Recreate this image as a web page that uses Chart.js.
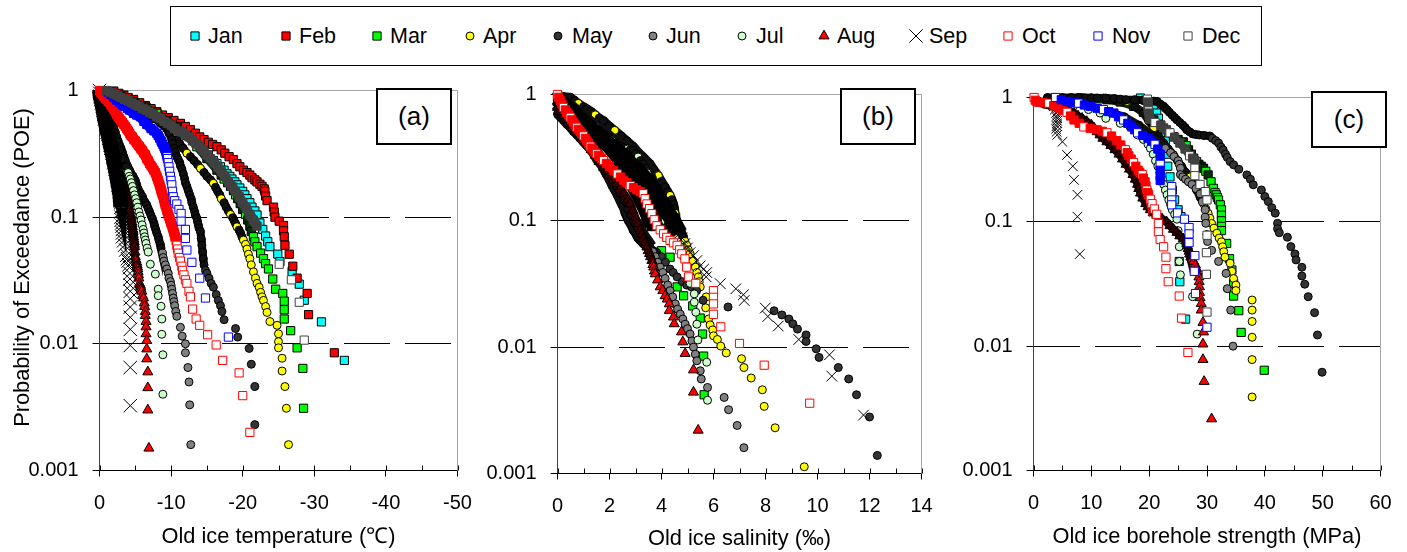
<!DOCTYPE html>
<html>
<head>
<meta charset="utf-8">
<script src="https://cdn.jsdelivr.net/npm/chart.js@4/dist/chart.umd.min.js"></script>
<style>
  html, body { margin: 0; padding: 0; background: #fff; }
  body { position: relative; width: 1407px; height: 552px; overflow: hidden; font-family: "Liberation Sans", Arial, sans-serif; }
  canvas.panel { position: absolute; top: 0; }
  #legendBox { position: absolute; left: 170px; top: 6px; width: 1090px; height: 58px; border: 1px solid #000; }
  .legItem { position: absolute; top: 17px; font-size: 21.5px; line-height: 24px; color: #000; }
  .legMark { position: absolute; top: 0; }
  .tag { position: absolute; width: 72px; height: 53px; border: 2px solid #000; background: #fff; font-size: 26px; line-height: 53px; text-align: center; z-index: 5; }
</style>
</head>
<body>
<div id="legendBox"></div>
<canvas class="panel" id="chartA"></canvas>
<canvas class="panel" id="chartB"></canvas>
<canvas class="panel" id="chartC"></canvas>
<div class="tag" style="left:376px;top:88px">(a)</div>
<div class="tag" style="left:840px;top:88px">(b)</div>
<div class="tag" style="left:1311px;top:91px">(c)</div>
<script>
"use strict";

const months = ['Jan','Feb','Mar','Apr','May','Jun','Jul','Aug','Sep','Oct','Nov','Dec'];

// (a) temperature, [degC, POE]
const tempJan = [[-1.5,.98],[-2.2,.94],[-3,.9],[-3.8,.87],[-4.75,.84],[-5.6,.79],[-6.5,.74],[-7.2,.7],[-8,.66],[-9.2,.6],[-10.3,.55],[-11,.52],[-11.7,.49],[-12.4,.46],[-13.1,.43],[-13.8,.39],[-14.5,.35],[-15.2,.31],[-15.9,.28],[-16.4,.265],[-16.9,.25],[-17.4,.235],[-17.8,.22],[-18.2,.21],[-18.5,.2],[-18.9,.19],[-19.2,.18],[-19.6,.17],[-20,.16],[-20.3,.15],[-20.6,.14],[-21,.13],[-21.3,.12],[-21.7,.112],[-22,.104],[-22.4,.09],[-22.8,.08],[-23.2,.071],[-23.5,.064],[-23.8,.0585],[-24.9,.051],[-25.2,.0445],[-26.9,.0373],[-27.9,.0296],[-28.6,.0221],[-31,.0149],[-34.2,.0074]];
const tempFeb = [[-2,.99],[-2.7,.95],[-3.4,.92],[-4,.88],[-4.75,.85],[-5.6,.8],[-6.4,.76],[-7.2,.72],[-8,.68],[-8.8,.64],[-9.6,.61],[-10.4,.58],[-11.3,.55],[-12,.52],[-12.7,.49],[-13.4,.46],[-14,.43],[-14.6,.41],[-15.2,.39],[-15.8,.375],[-16.4,.36],[-17,.34],[-17.5,.32],[-18.1,.3],[-18.7,.285],[-19.2,.265],[-19.6,.25],[-20.1,.235],[-20.6,.225],[-21,.215],[-21.3,.205],[-21.7,.197],[-22,.19],[-22.4,.182],[-22.7,.175],[-23,.167],[-23.1,.16],[-23.2,.147],[-23.4,.135],[-24.3,.12],[-24.4,.11],[-24.5,.1],[-25.1,.093],[-25.7,.086],[-25.7,.078],[-25.8,.07],[-25.9,.06],[-26.5,.051],[-27,.041],[-27.6,.033],[-29,.025],[-29.2,.017],[-32.8,.0085]];
const tempMar = [[-1.5,.98],[-3,.9],[-4.75,.82],[-6.4,.74],[-8,.66],[-9.4,.58],[-10.8,.52],[-12.2,.44],[-13.6,.36],[-15,.29],[-16.4,.235],[-17,.215],[-17.4,.2],[-17.9,.187],[-18.3,.175],[-18.7,.162],[-19,.15],[-19.3,.14],[-19.65,.128],[-20,.115],[-20.4,.105],[-20.7,.095],[-21,.085],[-21.2,.077],[-21.5,.07],[-21.7,.064],[-22,.0585],[-22.5,.052],[-22.9,.047],[-23.2,.043],[-23.6,.039],[-24.2,.0325],[-24.6,.027],[-25.6,.025],[-25.8,.0217],[-25.8,.0186],[-25.8,.0157],[-26.7,.0127],[-27.6,.0093],[-28.4,.0064],[-28.5,.0031]];
const tempApr = [[-1,.98],[-2,.93],[-3,.88],[-3.9,.83],[-4.75,.79],[-5.6,.74],[-6.5,.7],[-7.5,.64],[-8.5,.59],[-9,.54],[-9.4,.5],[-9.9,.47],[-10.3,.44],[-10.8,.41],[-11.2,.38],[-11.7,.35],[-12.2,.32],[-12.7,.3],[-13.2,.28],[-13.7,.26],[-14.1,.243],[-14.6,.225],[-15,.21],[-15.5,.197],[-15.9,.185],[-16.2,.172],[-16.5,.16],[-16.8,.15],[-17,.14],[-17.4,.13],[-17.7,.12],[-18,.112],[-18.3,.105],[-18.6,.099],[-18.8,.094],[-19,.089],[-19.2,.084],[-19.5,.079],[-19.7,.075],[-19.9,.07],[-20.1,.066],[-20.4,.061],[-20.6,.056],[-20.8,.051],[-21,.047],[-21.2,.042],[-21.5,.037],[-21.8,.033],[-22,.03],[-22.3,.028],[-22.5,.0255],[-22.7,.0235],[-22.9,.022],[-23.2,.0197],[-23.4,.0177],[-23.8,.015],[-24.8,.014],[-25,.012],[-25,.0104],[-25,.0093],[-25.5,.0077],[-25.5,.0061],[-25.9,.0046],[-26.1,.0031],[-26.4,.0016]];
const tempMay = [[-.55,.92],[-1.1,.88],[-1.7,.84],[-2.3,.8],[-2.9,.77],[-3.6,.74],[-4.2,.71],[-5,.68],[-5.7,.66],[-6.4,.64],[-7,.62],[-7.5,.6],[-8,.59],[-8.4,.56],[-8.8,.54],[-9.1,.52],[-9.4,.5],[-9.7,.46],[-10.1,.41],[-10.2,.38],[-10.4,.35],[-10.6,.325],[-10.8,.3],[-11,.285],[-11.2,.27],[-11.3,.255],[-11.5,.24],[-11.7,.22],[-11.9,.2],[-12,.187],[-12.2,.175],[-12.4,.162],[-12.6,.15],[-12.8,.14],[-12.9,.13],[-13.1,.12],[-13.3,.11],[-13.4,.104],[-13.6,.098],[-13.7,.092],[-13.8,.087],[-13.9,.082],[-14.1,.077],[-14.2,.068],[-14.3,.06],[-14.4,.053],[-14.5,.047],[-14.6,.042],[-14.8,.038],[-15,.036],[-15.3,.033],[-15.6,.03],[-15.9,.028],[-16.3,.0245],[-16.6,.022],[-16.9,.02],[-17.1,.018],[-17.4,.0155],[-19,.0132],[-19.3,.0113],[-20.9,.0092],[-21.2,.0069],[-21.7,.0046],[-21.7,.0023]];
const tempJun = [[-.2,.95],[-.4,.9],[-.6,.85],[-.8,.8],[-1,.75],[-1.2,.7],[-1.4,.65],[-1.6,.6],[-1.8,.55],[-2,.51],[-2.2,.47],[-2.4,.43],[-2.6,.4],[-2.8,.37],[-3,.35],[-3.2,.325],[-3.4,.3],[-3.6,.28],[-3.8,.26],[-4,.247],[-4.2,.235],[-4.4,.222],[-4.7,.21],[-5,.195],[-5.2,.18],[-5.4,.167],[-5.7,.155],[-6,.145],[-6.2,.135],[-6.4,.13],[-6.6,.125],[-6.8,.117],[-7,.11],[-7.2,.103],[-7.4,.097],[-7.6,.09],[-7.7,.085],[-7.85,.08],[-8,.075],[-8.2,.07],[-8.3,.066],[-8.5,.061],[-8.6,.057],[-8.8,.052],[-8.9,.048],[-9,.045],[-9.2,.042],[-9.4,.039],[-9.6,.036],[-9.7,.033],[-9.9,.031],[-10,.029],[-10.1,.027],[-10.2,.025],[-10.3,.023],[-10.4,.0215],[-10.5,.02],[-10.65,.018],[-10.8,.0165],[-11.3,.0135],[-11.55,.0115],[-12,.01],[-12,.0085],[-12.35,.0065],[-12.5,.005],[-12.6,.0033],[-12.75,.0016]];
const tempJul = [[-.2,.95],[-.5,.85],[-.9,.75],[-1.2,.65],[-1.6,.55],[-2,.47],[-2.4,.4],[-2.8,.34],[-3.2,.29],[-3.7,.25],[-4,.225],[-4.15,.21],[-4.3,.2],[-4.45,.187],[-4.6,.175],[-4.75,.162],[-4.9,.15],[-5.05,.14],[-5.2,.13],[-5.35,.12],[-5.5,.11],[-5.65,.102],[-5.8,.095],[-5.95,.087],[-6.1,.08],[-6.2,.075],[-6.3,.07],[-6.4,.066],[-6.5,.062],[-6.65,.057],[-6.8,.053],[-7.1,.0425],[-7.8,.0355],[-8.2,.027],[-8.2,.024],[-8.6,.0198],[-8.7,.0157],[-8.7,.0119],[-8.85,.0082],[-8.85,.004]];
const tempAug = [[-.1,.9],[-.3,.8],[-.55,.7],[-.7,.65],[-.8,.62],[-.95,.58],[-1.1,.55],[-1.25,.52],[-1.4,.49],[-1.55,.46],[-1.7,.43],[-1.85,.4],[-2,.38],[-2.1,.36],[-2.2,.34],[-2.25,.32],[-2.3,.3],[-2.35,.285],[-2.4,.27],[-2.55,.25],[-2.7,.235],[-2.85,.22],[-3,.21],[-3.15,.197],[-3.3,.185],[-3.45,.175],[-3.6,.164],[-3.7,.155],[-3.8,.145],[-3.9,.137],[-4.05,.128],[-4.1,.12],[-4.2,.113],[-4.3,.106],[-4.4,.1],[-4.45,.096],[-4.5,.092],[-4.55,.088],[-4.6,.084],[-4.65,.08],[-4.7,.077],[-4.72,.073],[-4.75,.07],[-4.8,.067],[-4.85,.064],[-4.87,.061],[-4.9,.0585],[-4.95,.053],[-5,.0487],[-5.1,.046],[-5.2,.044],[-5.25,.042],[-5.3,.0405],[-5.35,.039],[-5.4,.037],[-5.45,.035],[-5.5,.033],[-5.6,.03],[-5.7,.029],[-5.75,.028],[-5.8,.027],[-5.9,.026],[-6,.024],[-6.15,.023],[-6.25,.021],[-6.3,.0197],[-6.4,.018],[-6.4,.0167],[-6.5,.015],[-6.5,.0136],[-6.5,.012],[-6.6,.0106],[-6.6,.0091],[-6.6,.0076],[-6.75,.006],[-6.75,.0045],[-6.75,.003],[-6.9,.0015]];
const tempSep = [[0,1],[-.05,.95],[-.1,.9],[-.2,.85],[-.3,.8],[-.4,.75],[-.5,.7],[-.6,.65],[-.7,.6],[-.85,.55],[-1,.5],[-1.1,.47],[-1.2,.45],[-1.3,.42],[-1.4,.4],[-1.5,.37],[-1.6,.35],[-1.75,.32],[-1.9,.3],[-2,.27],[-2.1,.255],[-2.2,.24],[-2.3,.225],[-2.4,.21],[-2.5,.195],[-2.6,.18],[-2.7,.17],[-2.75,.16],[-2.85,.15],[-2.9,.14],[-2.95,.13],[-3,.12],[-3,.11],[-3,.1],[-3.05,.095],[-3.1,.09],[-3.15,.085],[-3.2,.08],[-3.2,.075],[-3.2,.07],[-3.35,.065],[-3.5,.06],[-3.65,.055],[-3.8,.05],[-3.9,.047],[-4,.045],[-4.1,.042],[-4.2,.04],[-4.25,.036],[-4.25,.0325],[-4.3,.029],[-4.3,.026],[-4.3,.0227],[-4.3,.0195],[-4.3,.0162],[-4.3,.013],[-4.3,.0097],[-4.3,.0065],[-4.3,.00325]];
const tempOct = [[0,1],[-.2,.96],[-.4,.93],[-.6,.9],[-.8,.87],[-1,.85],[-1.2,.82],[-1.4,.8],[-1.6,.77],[-1.8,.74],[-2,.71],[-2.2,.68],[-2.4,.65],[-2.6,.62],[-2.8,.6],[-3,.58],[-3.2,.56],[-3.4,.54],[-3.6,.52],[-3.8,.5],[-4,.48],[-4.2,.46],[-4.4,.44],[-4.6,.43],[-4.8,.41],[-5,.4],[-5.2,.385],[-5.4,.37],[-5.6,.36],[-5.8,.345],[-6,.335],[-6.2,.32],[-6.4,.31],[-6.6,.29],[-6.8,.28],[-7,.265],[-7.2,.255],[-7.4,.245],[-7.6,.235],[-7.8,.225],[-8,.21],[-8.2,.195],[-8.4,.18],[-8.6,.165],[-8.8,.15],[-9,.14],[-9.2,.125],[-9.4,.115],[-9.6,.105],[-9.8,.097],[-10,.09],[-10.2,.083],[-10.4,.076],[-10.6,.07],[-10.7,.065],[-10.8,.06],[-10.9,.056],[-11,.052],[-11.2,.048],[-11.3,.045],[-11.5,.041],[-11.6,.038],[-11.8,.035],[-12,.032],[-12.2,.03],[-12.5,.026],[-12.7,.0235],[-13,.0188],[-13.5,.0157],[-14,.014],[-15.1,.0118],[-16.3,.0098],[-17.2,.0074],[-19.5,.0059],[-20,.0039],[-21,.002]];
const tempNov = [[-1.2,.97],[-1.6,.93],[-2,.88],[-2.4,.84],[-2.8,.8],[-3.2,.77],[-3.5,.75],[-3.9,.72],[-4.2,.7],[-4.75,.66],[-5.2,.64],[-5.7,.62],[-6.2,.57],[-6.6,.54],[-7.2,.5],[-7.6,.48],[-8,.46],[-8.2,.44],[-8.4,.42],[-8.6,.4],[-8.7,.39],[-8.85,.375],[-9,.36],[-9.1,.35],[-9.2,.34],[-9.3,.325],[-9.4,.31],[-9.45,.3],[-9.5,.29],[-9.6,.27],[-9.7,.25],[-9.8,.23],[-9.9,.21],[-10,.195],[-10.1,.18],[-10.2,.16],[-10.3,.145],[-10.5,.135],[-10.8,.127],[-11.1,.115],[-11.4,.107],[-11.4,.093],[-12,.08],[-12,.068],[-12.2,.055],[-12.9,.044],[-14,.033],[-14.8,.023],[-18,.0113]];
const tempDec = [[-1,1],[-1.5,.97],[-2,.94],[-2.5,.91],[-3,.88],[-3.5,.85],[-4,.83],[-4.5,.8],[-5,.77],[-5.5,.75],[-6,.72],[-6.5,.7],[-7,.67],[-7.5,.65],[-8,.62],[-8.5,.6],[-9,.57],[-9.5,.55],[-10,.53],[-10.5,.5],[-11,.48],[-11.5,.47],[-12,.45],[-12.5,.43],[-13,.4],[-13.5,.38],[-14,.36],[-14.5,.335],[-15,.31],[-15.5,.29],[-16,.27],[-16.5,.25],[-17,.23],[-17.5,.21],[-18,.19],[-18.5,.175],[-19,.16],[-19.5,.145],[-20,.13],[-20.5,.117],[-21,.105],[-21.5,.095],[-22,.085],[-25.1,.0425],[-26.8,.032],[-27.9,.0213],[-28.6,.0107]];

// (b) salinity, [ppt, POE]
const salMar = [[0,.92],[.25,.83],[.5,.75],[.8,.66],[1.1,.58],[1.4,.51],[1.7,.45],[2,.39],[2.3,.33],[2.55,.27],[2.8,.22],[3,.18],[3.2,.15],[3.35,.13],[3.5,.11],[3.6,.09],[4,.058],[4.33,.0515],[4.6,.03],[4.85,.0255],[5.2,.0212],[5.49,.017],[5.58,.0127],[5.62,.0085],[5.64,.0042]];
const salApr = [[0,.98],[.25,.96],[.49,.95],[.65,.9],[.8,.85],[1,.8],[1.13,.77],[1.3,.73],[1.45,.69],[1.6,.65],[1.77,.62],[2,.56],[2.2,.52],[2.45,.47],[2.67,.43],[2.9,.39],[3.1,.35],[3.3,.32],[3.56,.283],[3.7,.255],[3.88,.228],[4,.205],[4.14,.185],[4.24,.17],[4.33,.159],[4.4,.147],[4.46,.136],[4.5,.125],[4.52,.115],[4.55,.107],[4.59,.1],[4.65,.093],[4.72,.087],[4.78,.08],[4.85,.074],[4.9,.069],[4.97,.064],[5.03,.059],[5.1,.0548],[5.2,.048],[5.3,.043],[5.36,.039],[5.42,.036],[5.45,.033],[5.49,.03],[5.72,.025],[5.7,.0205],[5.81,.0167],[5.87,.015],[5.97,.0137],[6,.0123],[6.15,.0115],[6.28,.0102],[6.49,.009],[7.08,.0081],[7.17,.0069],[7.45,.0057],[7.88,.0046],[7.95,.0034],[8.37,.0023],[9.49,.00113]];
const salMay = [[0,.7],[.12,.66],[.25,.62],[.37,.58],[.49,.55],[.62,.51],[.75,.48],[.87,.45],[1,.42],[1.12,.395],[1.25,.37],[1.37,.345],[1.5,.32],[1.62,.29],[1.75,.26],[1.87,.235],[2,.21],[2.1,.19],[2.2,.175],[2.3,.16],[2.4,.145],[2.47,.135],[2.55,.125],[2.6,.115],[2.67,.107],[2.73,.1],[2.8,.095],[2.86,.09],[2.92,.084],[3,.08],[3.05,.076],[3.1,.073],[3.18,.07],[3.3,.066],[3.44,.062],[3.6,.059],[3.82,.056],[4,.052],[4.15,.047],[4.33,.0415],[4.45,.039],[4.6,.036],[4.8,.033],[4.97,.031],[5.15,.03],[5.35,.028],[5.6,.0235],[6.56,.0208],[8.33,.0194],[8.63,.018],[8.9,.0167],[9.05,.0153],[9.23,.0139],[9.56,.0125],[9.56,.0111],[9.95,.0097],[10.06,.0083],[10.8,.0069],[11.2,.0056],[11.5,.0042],[12,.0028],[12.3,.00139]];
const salJun = [[0,.84],[.12,.78],[.25,.72],[.37,.67],[.49,.62],[.65,.57],[.8,.52],[.95,.47],[1.13,.43],[1.3,.39],[1.45,.35],[1.6,.31],[1.77,.283],[1.95,.25],[2.1,.22],[2.25,.19],[2.41,.164],[2.55,.145],[2.7,.125],[2.8,.112],[2.92,.1],[3,.094],[3.1,.087],[3.2,.08],[3.3,.074],[3.43,.068],[3.56,.062],[3.66,.057],[3.76,.052],[3.85,.047],[3.95,.043],[4.05,.039],[4.14,.035],[4.24,.031],[4.33,.028],[4.43,.025],[4.53,.022],[4.62,.02],[4.72,.0183],[4.82,.0167],[4.91,.0152],[5,.014],[5.1,.0127],[5.17,.0112],[5.23,.01],[5.3,.0088],[5.36,.0078],[5.49,.0065],[5.53,.0056],[5.77,.0048],[6.41,.004],[6.58,.0032],[6.91,.0024],[7.17,.0016]];
const salJul = [[0,.9],[.25,.85],[.49,.8],[.65,.75],[.8,.7],[1,.66],[1.13,.62],[1.3,.58],[1.45,.55],[1.6,.52],[1.77,.49],[1.95,.46],[2.1,.43],[2.25,.41],[2.41,.39],[2.55,.38],[2.7,.37],[2.8,.365],[2.92,.36],[3,.34],[3.1,.32],[3.2,.3],[3.3,.283],[3.4,.26],[3.45,.24],[3.55,.215],[3.63,.196],[3.7,.17],[3.8,.15],[3.88,.13],[3.95,.117],[4.05,.108],[4.15,.1],[4.25,.092],[4.33,.084],[4.5,.074],[4.72,.062],[4.85,.052],[4.97,.043],[5.1,.032],[5.26,.0264],[5.26,.0227],[5.32,.0189],[5.36,.0152],[5.4,.0114],[5.74,.0076],[5.77,.0038]];
const salAug = [[0,.79],[.12,.73],[.25,.68],[.37,.63],[.49,.586],[.65,.535],[.8,.49],[.95,.45],[1.13,.407],[1.3,.365],[1.45,.33],[1.6,.295],[1.77,.265],[1.9,.245],[2,.23],[2.15,.21],[2.28,.196],[2.4,.18],[2.55,.165],[2.7,.148],[2.8,.136],[2.9,.12],[2.99,.107],[3.08,.095],[3.18,.084],[3.24,.078],[3.3,.072],[3.37,.067],[3.44,.062],[3.49,.058],[3.54,.055],[3.58,.052],[3.63,.0485],[3.67,.045],[3.7,.043],[3.73,.04],[3.76,.038],[3.85,.034],[3.95,.03],[4.05,.028],[4.14,.0255],[4.22,.024],[4.3,.022],[4.3,.0195],[4.46,.0173],[4.49,.0153],[4.77,.0132],[4.82,.011],[4.91,.0089],[5.23,.0066],[5.23,.0044],[5.41,.0022]];
const salSep = [[0,.93],[.1,.89],[.2,.85],[.3,.81],[.4,.78],[.5,.75],[.6,.72],[.7,.69],[.8,.66],[.9,.63],[1,.6],[1.12,.57],[1.25,.54],[1.37,.51],[1.5,.49],[1.62,.465],[1.75,.44],[1.87,.42],[2,.4],[2.12,.38],[2.25,.36],[2.37,.345],[2.5,.33],[2.62,.31],[2.75,.29],[2.87,.275],[3,.26],[3.12,.245],[3.25,.23],[3.37,.215],[3.5,.2],[3.6,.187],[3.7,.175],[3.8,.162],[3.9,.15],[4.05,.135],[4.2,.12],[4.35,.107],[4.5,.095],[4.6,.087],[4.7,.08],[4.8,.073],[4.9,.066],[5,.061],[5.1,.056],[5.23,.053],[5.36,.0485],[5.49,.044],[5.62,.0415],[5.74,.039],[5.72,.036],[6.26,.0318],[6.86,.029],[7.15,.026],[7.18,.0234],[7.99,.0204],[8.09,.0175],[8.49,.0147],[9.28,.0115],[10.46,.0087],[10.55,.0059],[11.77,.0029]];
const salOct = [[0,1],[.05,.95],[.1,.9],[.17,.84],[.23,.79],[.3,.755],[.36,.72],[.43,.69],[.49,.66],[.55,.63],[.62,.6],[.68,.575],[.74,.55],[.8,.53],[.87,.51],[.93,.49],[1,.47],[1.07,.45],[1.13,.43],[1.2,.41],[1.26,.39],[1.32,.377],[1.38,.365],[1.44,.35],[1.5,.34],[1.57,.33],[1.63,.32],[1.7,.31],[1.77,.3],[1.88,.285],[2,.27],[2.15,.25],[2.3,.235],[2.42,.222],[2.54,.21],[2.67,.2],[2.8,.19],[2.92,.183],[3.05,.176],[3.18,.17],[3.3,.164],[3.37,.15],[3.44,.136],[3.54,.125],[3.63,.114],[3.72,.102],[3.82,.0915],[3.95,.085],[4.08,.079],[4.2,.074],[4.33,.07],[4.46,.067],[4.6,.064],[4.7,.059],[4.78,.0548],[4.9,.05],[4.97,.043],[5.04,.036],[5.32,.032],[6,.028],[6,.0248],[6,.022],[6,.0182],[6.28,.0145],[7,.0107],[7.95,.0072],[9.7,.0036]];

// (c) borehole strength, [MPa, POE]
const strJan = [[18.5,.99],[19.4,.95],[20.2,.9],[20.7,.82],[21.3,.75],[21.6,.68],[22,.6],[22.4,.52],[22.8,.45],[23.2,.35],[23.2,.28],[23.6,.23],[24,.18],[24.4,.15],[25,.125],[25.5,.11],[25.2,.048],[25.3,.033],[26.3,.0165]];
const strMar = [[8.1,.99],[12.7,.96],[15,.92],[17.3,.85],[19,.76],[20.8,.66],[21.6,.61],[22.5,.56],[23.4,.52],[24.2,.485],[25,.46],[25.9,.44],[26.4,.41],[26.8,.38],[27.3,.35],[27.7,.325],[28.2,.305],[28.6,.29],[29,.28],[29.4,.27],[29.8,.255],[30.2,.2385],[30.7,.21],[31.1,.186],[31.4,.172],[31.6,.165],[31.8,.157],[32,.15],[32.3,.137],[32.5,.125],[32.5,.113],[32.5,.102],[32.5,.092],[32.5,.085],[33.4,.067],[33.9,.0505],[34.3,.041],[34.6,.032],[34.6,.0253],[35.5,.0193],[35.9,.0129],[39.9,.0064]];
const strApr = [[8.1,1],[10,.995],[12.1,.99],[14,.96],[16.2,.93],[17.6,.84],[19,.75],[19.9,.65],[20.8,.57],[21.6,.49],[22.5,.43],[23.3,.385],[24.2,.346],[24.9,.31],[25.6,.28],[26.3,.25],[27.1,.23],[27.6,.205],[28.2,.18],[28.8,.158],[29.4,.14],[29.8,.127],[30.2,.117],[30.5,.107],[30.8,.097],[31.2,.089],[31.7,.081],[32.1,.074],[32.5,.069],[32.7,.063],[32.9,.0575],[33.1,.052],[34,.0465],[34.3,.04],[34.6,.035],[35,.031],[35,.028],[37.8,.0235],[37.8,.0195],[37.8,.0158],[37.8,.0118],[37.8,.0078],[37.8,.0039]];
const strMay = [[2.4,1],[3.5,1],[5,1],[6.5,1],[7.8,1],[9,.99],[10,.99],[11,.99],[12.5,.99],[14,.98],[15,.97],[16,.96],[17.5,.96],[19,.95],[20,.94],[20.8,.935],[21.4,.928],[22,.88],[22.5,.85],[22.8,.82],[23.1,.796],[23.5,.76],[24,.72],[24.4,.69],[24.8,.661],[25.3,.63],[25.8,.6],[26.2,.575],[26.5,.55],[27,.53],[27.5,.51],[28,.505],[28.6,.5],[29.5,.495],[30.5,.49],[30.9,.47],[31.5,.45],[32,.43],[32.4,.4],[32.8,.379],[33.2,.35],[33.5,.33],[34,.305],[34.6,.2875],[35.5,.265],[36.9,.2385],[37.5,.22],[38,.1985],[39.4,.1805],[40,.16],[40.6,.1455],[41.2,.13],[41.8,.1175],[42.2,.0973],[42.2,.088],[42.5,.0818],[43.9,.0752],[44.5,.0632],[45.2,.0552],[45.4,.0494],[46.4,.0431],[46.4,.0367],[46.9,.0315],[47.5,.025],[48.6,.0186],[49.1,.0123],[49.9,.00617]];
const strJun = [[2.4,.98],[5,.95],[7.8,.9],[10,.85],[12.4,.78],[15.7,.7],[18.2,.6],[20.8,.49],[21.4,.46],[22,.43],[22.8,.39],[23.7,.36],[24.3,.335],[25,.31],[25.2,.29],[25.4,.27],[25.4,.24],[25.8,.23],[26.3,.22],[26.8,.21],[27.4,.2],[28.1,.185],[28.8,.168],[29.2,.145],[29.7,.125],[29.7,.109],[29.8,.0973],[30,.079],[30.1,.0695],[30.8,.059],[32,.048],[33.3,.0385],[33.5,.029],[34.1,.0195],[34.5,.01]];
const strJul = [[6.9,.85],[9.5,.8],[11.5,.75],[12.5,.68],[15,.62],[16.7,.58],[18,.5],[19,.46],[19.8,.42],[20.2,.39],[20.7,.35],[21.1,.31],[21.5,.28],[21.9,.25],[22.3,.22],[22.5,.2],[22.8,.18],[23.1,.165],[23.4,.15],[23.7,.137],[24,.125],[24.4,.115],[24.8,.105],[25,.085],[25.2,.063],[25.2,.048],[25.4,.0375],[27.5,.025],[28.3,.0125]];
const strAug = [[1.2,.9],[2.4,.87],[3.5,.84],[4.6,.82],[5.8,.8],[6.4,.775],[7,.748],[7.7,.71],[8.4,.68],[9.2,.64],[10,.6],[10.5,.565],[11,.53],[11.5,.5],[12,.47],[12.7,.44],[13.4,.41],[14.1,.38],[14.8,.35],[15.4,.32],[16,.29],[16.6,.265],[17.2,.24],[17.6,.22],[18,.2],[18.2,.185],[18.5,.17],[18.9,.155],[19.4,.14],[19.8,.132],[20.2,.125],[20.7,.118],[21.3,.113],[22.2,.106],[23,.1],[23.6,.093],[24.2,.087],[24.8,.082],[25.3,.077],[25.9,.073],[26.4,.07],[26.5,.067],[26.6,.064],[26.75,.061],[26.9,.058],[27,.055],[27.2,.052],[27.45,.05],[27.7,.048],[28,.045],[28.2,.042],[28.4,.039],[28.6,.036],[28.65,.033],[28.7,.03],[28.7,.027],[28.8,.0245],[29,.022],[29,.0195],[29.3,.0155],[29.4,.013],[29.3,.0104],[29.3,.0078],[29.5,.0052],[30.8,.0026]];
const strSep = [[3,.95],[3.2,.9],[3.5,.85],[3.7,.8],[3.9,.75],[4,.71],[4.1,.68],[4.1,.65],[4.1,.62],[4,.59],[3.9,.56],[4,.53],[4.1,.5],[5,.44],[5.8,.345],[6.8,.28],[7,.2175],[7.6,.165],[7.6,.11],[8,.055]];
const strOct = [[.1,1],[.3,.95],[.6,.92],[1.6,.91],[2.6,.9],[3.5,.86],[4.4,.82],[5.1,.79],[5.8,.76],[6.4,.71],[7,.66],[7.9,.62],[8.7,.58],[9.8,.565],[11,.55],[11.9,.535],[12.7,.52],[13.5,.49],[14.4,.45],[15.1,.415],[15.9,.38],[16.2,.36],[16.5,.34],[16.9,.32],[17.3,.3],[17.7,.28],[18.1,.26],[18.4,.25],[18.8,.24],[19,.225],[19.3,.21],[19.45,.195],[19.6,.18],[19.75,.172],[19.9,.165],[20.2,.152],[20.5,.14],[20.9,.127],[21.3,.115],[21.6,.097],[21.6,.083],[21.9,.072],[22.5,.063],[22.9,.052],[22.9,.042],[23.3,.033],[25.2,.0253],[25.6,.0168],[26.7,.0089]];
const strNov = [[3.8,1],[4.8,.96],[5.8,.93],[6.8,.91],[7.8,.9],[8.8,.87],[9.8,.85],[11,.82],[12.1,.8],[13,.77],[13.9,.75],[14.7,.7],[15.6,.66],[16.3,.62],[17,.58],[17.5,.55],[18,.52],[18.9,.495],[19.8,.47],[20.4,.445],[21,.42],[21.5,.385],[21.9,.35],[21.9,.32],[21.9,.29],[21.9,.26],[21.9,.235],[21.9,.215],[23.9,.192],[23.9,.17],[23.9,.15],[23.9,.137],[24.9,.118],[26.1,.105],[26.9,.09],[26.9,.08],[26.9,.068],[27.9,.0535],[27.8,.04],[28,.0265],[30,.0142]];
const strDec = [[19.7,.97],[19.8,.92],[19.8,.87],[19.8,.82],[19.9,.78],[20,.75],[20,.71],[20.1,.67],[21,.63],[22,.6],[22.5,.57],[23,.55],[23.6,.52],[24.4,.48],[25.3,.43],[26.2,.385],[27,.34],[27.5,.325],[27.9,.31],[27.9,.27],[27.9,.235],[28.8,.2],[29.7,.175],[30,.15],[30,.078],[29.9,.0565],[29.9,.0378],[30,.0188]];

const colorBlack = '#000';
// marker look per month
const markerStyles = {
  Jan: { pointStyle: 'rect', pointBackgroundColor: '#00ffff', pointBorderColor: colorBlack, size: 5.8 },
  Feb: { pointStyle: 'rect', pointBackgroundColor: '#ff0000', pointBorderColor: colorBlack, size: 5.8 },
  Mar: { pointStyle: 'rect', pointBackgroundColor: '#00ff00', pointBorderColor: colorBlack, size: 5.8 },
  Apr: { pointStyle: 'circle', pointBackgroundColor: '#ffff00', pointBorderColor: colorBlack, size: 4 },
  May: { pointStyle: 'circle', pointBackgroundColor: '#333333', pointBorderColor: colorBlack, size: 4 },
  Jun: { pointStyle: 'circle', pointBackgroundColor: '#808080', pointBorderColor: colorBlack, size: 4 },
  Jul: { pointStyle: 'circle', pointBackgroundColor: '#ccffcc', pointBorderColor: colorBlack, size: 4 },
  Aug: { pointStyle: 'triangle', pointBackgroundColor: '#ff0000', pointBorderColor: colorBlack, size: 5.8 },
  Sep: { pointStyle: 'crossRot', pointBackgroundColor: colorBlack, pointBorderColor: colorBlack, size: 9.5 },
  Oct: { pointStyle: 'rect', pointBackgroundColor: '#fff', pointBorderColor: '#ff0000', size: 5.8 },
  Nov: { pointStyle: 'rect', pointBackgroundColor: '#fff', pointBorderColor: '#0000ff', size: 5.8 },
  Dec: { pointStyle: 'rect', pointBackgroundColor: '#fff', pointBorderColor: '#404040', size: 5.8 }
};

// where markers pile up solid: first n points of a month merge into one dark band
const bandsA = {
  Mar: { n: 25, color: '#0a300a', width: 8, specks: true },
  Apr: { n: 41, color: '#111', width: 8, specks: true },
  May: { n: 48, color: '#111', width: 8 },
  Jun: { n: 43, color: '#111', width: 8 },
  Jul: { n: 10, color: '#111', width: 8 },
  Aug: { n: 49, color: '#500000', width: 8 },
  Sep: { n: 32, color: '#000', width: 15 },
  Oct: { n: 55, color: '#ff0000', width: 11 },
  Nov: { n: 27, color: '#0000ff', width: 10 },
  Dec: { n: 43, color: '#404040', width: 10 }
};
const bandsB = {
  Mar: { n: 16, color: '#000', width: 16 },
  Apr: { n: 35, color: '#111', width: 9, specks: true },
  May: { n: 37, color: '#111', width: 9 },
  Jun: { n: 27, color: '#111', width: 14 },
  Jul: { n: 35, color: '#111', width: 14, specks: true },
  Aug: { n: 33, color: '#400000', width: 8 },
  Sep: { n: 41, color: '#000', width: 16 },
  Oct: { n: 41, color: '#ff0000', width: 9, specks: true }
};
const bandsC = {
  Mar: { n: 22, color: '#0a300a', width: 8, specks: true },
  Apr: { n: 21, color: '#111', width: 8, specks: true },
  May: { n: 35, color: '#111', width: 8 },
  Jun: { n: 10, color: '#111', width: 8 },
  Aug: { n: 47, color: '#300000', width: 8 },
  Oct: { n: 35, color: '#ff0000', width: 7, specks: true },
  Nov: { n: 28, color: '#0000ff', width: 8, specks: true },
  Dec: { n: 19, color: '#404040', width: 8, specks: true }
};

const decadeTicks = [1, 0.1, 0.01, 0.001];
const fontFamily = '"Liberation Sans", Arial, sans-serif';
const tickFontSize = 20;
const titleFontSize = 21.8;

function monthDatasets(seriesMap, crossSize, bands) {
  // lower order is drawn on top, so later months must get lower numbers
  return months.filter(m => seriesMap[m]).map((m, i) => {
    const st = markerStyles[m];
    const band = bands[m];
    const ds = {
      label: m,
      data: seriesMap[m].map(p => ({ x: p[0], y: p[1] })),
      order: 100 - i,
      showLine: false,
      clip: false,
      pointStyle: st.pointStyle,
      pointBackgroundColor: st.pointBackgroundColor,
      pointBorderColor: st.pointBorderColor,
      pointBorderWidth: 1,
      pointRadius: m === 'Sep' ? crossSize : st.size
    };
    if (band) {
      ds.showLine = true;
      ds.tension = 0;
      ds.borderWidth = band.width;
      ds.borderColor = 'rgba(0,0,0,0)';
      ds.segment = { borderColor: c => (c.p1DataIndex < band.n ? band.color : 'rgba(0,0,0,0)') };
      ds.pointBackgroundColor = c => {
        if (c.dataIndex >= band.n) return st.pointBackgroundColor;
        return band.specks && c.dataIndex % 4 === 0 ? st.pointBackgroundColor : band.color;
      };
    }
    return ds;
  });
}

// frame lines and the small inner x ticks
const framePlugin = {
  id: 'frame',
  beforeDraw(chart) {
    // moves only the box the y title is centred on, scale pixels stay as they are
    const shift = chart.options.plugins.frame.titleShift || 0;
    chart.scales.y.bottom = chart.chartArea.bottom - shift;
  },
  beforeDatasetsDraw(chart) {
    const { ctx, chartArea: a, scales } = chart;
    ctx.save();
    ctx.lineWidth = 1;
    ctx.strokeStyle = '#a6a6a6';
    ctx.beginPath();
    ctx.moveTo(a.left, a.top);
    ctx.lineTo(a.right, a.top);
    ctx.lineTo(a.right, a.bottom);
    ctx.stroke();
    ctx.strokeStyle = '#404040';
    ctx.beginPath();
    ctx.moveTo(a.left, a.top);
    ctx.lineTo(a.left, a.bottom);
    ctx.stroke();
    ctx.strokeStyle = '#000';
    scales.x.ticks.forEach(t => {
      const px = Math.round(scales.x.getPixelForValue(t.value)) + 0.5;
      ctx.beginPath();
      ctx.moveTo(px, a.bottom);
      ctx.lineTo(px, a.bottom - 5);
      ctx.stroke();
    });
    ctx.restore();
  }
};

function makePanel(opt) {
  const canvas = document.getElementById(opt.id);
  canvas.style.left = opt.canvasLeft + 'px';
  canvas.style.width = opt.canvasWidth + 'px';
  canvas.style.height = '552px';
  canvas.width = opt.canvasWidth;
  canvas.height = 552;

  return new Chart(canvas, {
    type: 'scatter',
    data: { datasets: monthDatasets(opt.series, opt.crossSize, opt.bands) },
    options: {
      responsive: false,
      animation: false,
      layout: { padding: { top: opt.top, right: opt.canvasWidth - opt.right, left: 0, bottom: 0 } },
      plugins: {
        legend: { display: false },
        tooltip: { enabled: false },
        frame: { titleShift: opt.titleShift || 0 }
      },
      scales: {
        x: {
          type: 'linear',
          reverse: !!opt.reverse,
          min: opt.xMin,
          max: opt.xMax,
          afterFit(scale) { scale.height = 552 - opt.bottom; },
          border: { display: true, color: '#000', width: 1 },
          grid: {
            drawOnChartArea: false,
            tickLength: 6,
            tickColor: ctx => (ctx.tick && ctx.tick.value % opt.xMajor === 0 ? '#000' : 'rgba(0,0,0,0)')
          },
          ticks: {
            stepSize: opt.xMinor,
            autoSkip: false,
            maxRotation: 0,
            padding: 15,
            color: '#000',
            font: { family: fontFamily, size: tickFontSize },
            callback: v => (v % opt.xMajor === 0 ? String(v) : '')
          },
          title: {
            display: true,
            text: opt.xTitle,
            color: '#000',
            font: { family: fontFamily, size: titleFontSize },
            padding: { top: 0, bottom: opt.titlePad }
          }
        },
        y: {
          type: 'logarithmic',
          min: 0.001,
          max: 1,
          afterBuildTicks(scale) { scale.ticks = decadeTicks.map(v => ({ value: v })); },
          afterFit(scale) { scale.width = opt.left; },
          border: { display: false, dash: [46, 15] },
          grid: {
            tickLength: 7,
            tickColor: '#000',
            lineWidth: 1,
            color: ctx => (ctx.tick && (ctx.tick.value === 0.1 || ctx.tick.value === 0.01) ? '#000' : 'rgba(0,0,0,0)')
          },
          ticks: {
            padding: 14,
            color: '#000',
            font: { family: fontFamily, size: tickFontSize },
            callback: v => String(v)
          },
          title: {
            display: !!opt.yTitle,
            text: opt.yTitle || '',
            color: '#000',
            font: { family: fontFamily, size: titleFontSize },
            padding: { top: 10, bottom: 0 }
          }
        }
      }
    },
    plugins: [framePlugin]
  });
}

function buildLegend() {
  const box = document.getElementById('legendBox');
  const markX = [24, 115, 206, 299, 387, 482, 571, 653, 745, 837, 927, 1017];
  const textX = [37, 128, 219, 312, 401, 495, 585, 666, 758, 851, 941, 1031];
  months.forEach((m, i) => {
    const st = markerStyles[m];
    const c = document.createElement('canvas');
    c.width = 20; c.height = 20;
    c.className = 'legMark';
    c.style.left = (markX[i] - 10) + 'px';
    c.style.top = '19px';
    box.appendChild(c);
    const ctx = c.getContext('2d');
    ctx.fillStyle = st.pointBackgroundColor;
    ctx.strokeStyle = st.pointBorderColor;
    ctx.lineWidth = 1;
    Chart.helpers.drawPoint(ctx, { pointStyle: st.pointStyle, radius: m === 'Sep' ? 9.5 : st.size, rotation: 0, borderWidth: 1 }, 10, 10);
    const t = document.createElement('div');
    t.className = 'legItem';
    t.style.left = textX[i] + 'px';
    t.textContent = m;
    box.appendChild(t);
  });
}

buildLegend();

makePanel({
  id: 'chartA', canvasLeft: 0, canvasWidth: 490,
  left: 99.5, right: 457.5, top: 90.5, bottom: 470.5,
  xMin: -50, xMax: 0, reverse: true, xMajor: 10, xMinor: 5, crossSize: 9.5, bands: bandsA,
  xTitle: 'Old ice temperature (\u2103)', yTitle: 'Probability of Exceedance (POE)', titlePad: 2, titleShift: 26,
  series: { Jan: tempJan, Feb: tempFeb, Mar: tempMar, Apr: tempApr, May: tempMay, Jun: tempJun, Jul: tempJul, Aug: tempAug, Sep: tempSep, Oct: tempOct, Nov: tempNov, Dec: tempDec }
});

makePanel({
  id: 'chartB', canvasLeft: 480, canvasWidth: 470,
  left: 77.5, right: 441.5, top: 94.5, bottom: 473.5,
  xMin: 0, xMax: 14, xMajor: 2, xMinor: 1, crossSize: 7.5, bands: bandsB,
  xTitle: 'Old ice salinity (\u2030)', titlePad: 0,
  series: { Mar: salMar, Apr: salApr, May: salMay, Jun: salJun, Jul: salJul, Aug: salAug, Sep: salSep, Oct: salOct }
});

makePanel({
  id: 'chartC', canvasLeft: 950, canvasWidth: 457,
  left: 83.5, right: 430.5, top: 97.5, bottom: 470.5,
  xMin: 0, xMax: 60, xMajor: 10, xMinor: 5, crossSize: 6.8, bands: bandsC,
  xTitle: 'Old ice borehole strength (MPa)', titlePad: 2,
  series: { Jan: strJan, Mar: strMar, Apr: strApr, May: strMay, Jun: strJun, Jul: strJul, Aug: strAug, Sep: strSep, Oct: strOct, Nov: strNov, Dec: strDec }
});
</script>
</body>
</html>
